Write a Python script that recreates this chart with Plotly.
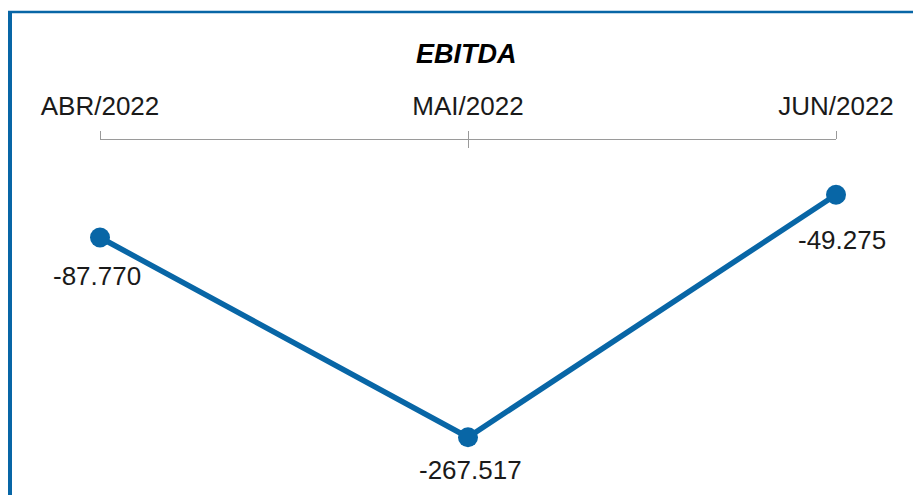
import plotly.graph_objects as go

months = ["ABR/2022", "MAI/2022", "JUN/2022"]
ebitda = [-87770, -267517, -49275]
labels = ["-87.770", "-267.517", "-49.275"]

BLUE = "#0866A6"
FONT = "Liberation Sans, Arial, sans-serif"

W, H = 913, 495
L, R, T, B = 100, 77, 140, 0
pw, ph = W - L - R, H - T - B

def px_x(p):
    return (p - L) / pw

def px_y(p):
    return (H - B - p) / ph

fig = go.Figure()
fig.add_trace(go.Scatter(
    x=[0, 1, 2], y=ebitda, mode="lines+markers",
    line=dict(color=BLUE, width=5.5),
    marker=dict(color=BLUE, size=20),
    cliponaxis=False, hoverinfo="skip", showlegend=False,
))
# inside ticks via overlaid axis
fig.add_trace(go.Scatter(x=[0, 2], y=[None, None], xaxis="x2", showlegend=False, hoverinfo="skip"))

xshifts = [-3, 2, 6]
yshifts = [-38, -33, -45]
for i, (v, t) in enumerate(zip(ebitda, labels)):
    fig.add_annotation(x=i, y=v, text=t, showarrow=False, xanchor="center", yanchor="middle",
                       xshift=xshifts[i], yshift=yshifts[i],
                       font=dict(family=FONT, size=26, color="#1a1a1a"))

fig.add_annotation(xref="paper", yref="paper", x=px_x(466), y=px_y(54), text="<b><i>EBITDA</i></b>",
                   showarrow=False, xanchor="center", yanchor="middle",
                   font=dict(family=FONT, size=27, color="#000000"))

fig.add_shape(type="line", xref="paper", yref="paper", x0=px_x(10), x1=px_x(10), y0=px_y(11), y1=px_y(500),
              line=dict(color=BLUE, width=4))
fig.add_shape(type="line", xref="paper", yref="paper", x0=px_x(8), x1=px_x(920), y0=px_y(12), y1=px_y(12),
              line=dict(color=BLUE, width=2.5))

axis_common = dict(range=[0, 2], tickvals=[0, 1, 2], showgrid=False, zeroline=False,
                   ticklen=8, tickwidth=1.3, tickcolor="#9a9a9a", side="top")
fig.update_layout(
    width=W, height=H,
    margin=dict(l=L, r=R, t=T, b=B, pad=0),
    paper_bgcolor="white", plot_bgcolor="white",
    xaxis=dict(**axis_common, ticktext=months, ticks="outside", showline=True,
               linecolor="#9a9a9a", linewidth=1.3, ticklabelstandoff=5,
               tickfont=dict(family=FONT, size=26, color="#1a1a1a")),
    xaxis2=dict(**axis_common, overlaying="x", ticks="inside", showticklabels=False, showline=False),
    yaxis=dict(range=[-319500, 0], visible=False),
)
fig.write_html("out.html", config={"displayModeBar": False})

with open("out.html", encoding="utf-8") as f:
    html = f.read()
html = html.replace("<head>", "<head><style>html,body{margin:0;padding:0;overflow:hidden}</style>", 1)
with open("out.html", "w", encoding="utf-8") as f:
    f.write(html)
